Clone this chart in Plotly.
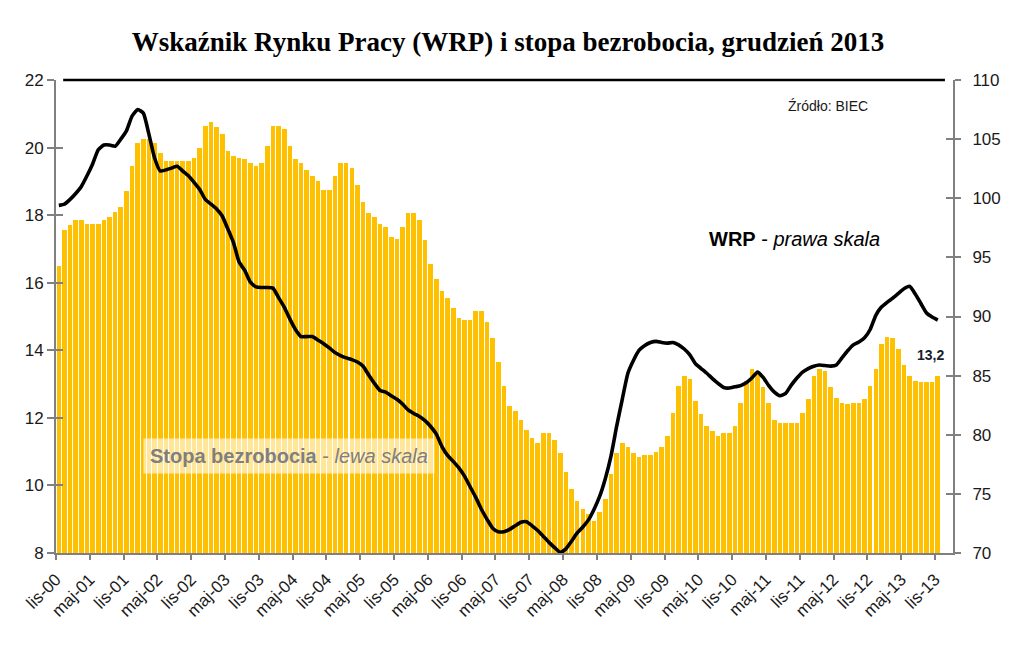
import plotly.graph_objects as go

# Stopa bezrobocia (%), monthly lis-00 .. lis-13 (left axis)
unemployment = [
    16.5, 17.55,                                                     # XI-XII 2000
    17.7, 17.85, 17.85, 17.75, 17.75, 17.75, 17.85, 17.95, 18.1, 18.25, 18.7, 19.45,   # 2001
    20.15, 20.25, 20.25, 20.15, 19.85, 19.6, 19.6, 19.6, 19.6, 19.6, 19.7, 20.0,       # 2002
    20.65, 20.75, 20.6, 20.4, 19.9, 19.75, 19.7, 19.65, 19.55, 19.45, 19.55, 20.05,    # 2003
    20.65, 20.65, 20.55, 20.05, 19.65, 19.55, 19.35, 19.15, 19.0, 18.75, 18.75, 19.15, # 2004
    19.55, 19.55, 19.4, 18.9, 18.4, 18.05, 17.95, 17.75, 17.65, 17.35, 17.3, 17.65,    # 2005
    18.05, 18.05, 17.85, 17.25, 16.55, 16.1, 15.75, 15.55, 15.25, 14.95, 14.9, 14.9,   # 2006
    15.15, 15.15, 14.85, 14.35, 13.65, 12.95, 12.35, 12.2, 11.95, 11.65, 11.4, 11.25,  # 2007
    11.55, 11.55, 11.35, 10.95, 10.4, 9.9, 9.55, 9.3, 9.15, 8.95, 9.2, 9.6,            # 2008
    10.35, 10.95, 11.25, 11.15, 10.95, 10.85, 10.9, 10.9, 11.0, 11.15, 11.45, 12.15,   # 2009
    12.95, 13.25, 13.15, 12.5, 12.1, 11.75, 11.6, 11.45, 11.55, 11.55, 11.75, 12.45,   # 2010
    13.1, 13.45, 13.35, 12.9, 12.45, 11.95, 11.85, 11.85, 11.85, 11.85, 12.15, 12.55,  # 2011
    13.25, 13.45, 13.4, 12.9, 12.6, 12.45, 12.4, 12.45, 12.45, 12.55, 12.95, 13.45,    # 2012
    14.2, 14.4, 14.35, 14.05, 13.55, 13.25, 13.1, 13.05, 13.05, 13.05, 13.25,          # 2013 (I-XI)
]

# Wskaźnik Rynku Pracy (right axis)
wrp = [
    99.4, 99.5, 99.9, 100.4, 101.0, 101.9, 102.9, 104.1, 104.5, 104.5,
    104.4, 105.0, 105.7, 106.95, 107.5, 107.2, 105.4, 103.4, 102.3, 102.4,
    102.55, 102.7, 102.3, 101.9, 101.35, 100.75, 99.9, 99.5, 99.1, 98.5,
    97.4, 96.25, 94.6, 93.9, 92.9, 92.5, 92.45, 92.45, 92.4, 91.6,
    90.8, 89.8, 88.9, 88.3, 88.3, 88.3, 88.0, 87.7, 87.35, 86.95,
    86.7, 86.5, 86.35, 86.15, 85.8, 85.05, 84.35, 83.75, 83.6, 83.3,
    83.0, 82.6, 82.1, 81.8, 81.55, 81.2, 80.7, 80.05, 79.0, 78.25,
    77.75, 77.2, 76.5, 75.6, 74.7, 73.7, 72.85, 72.1, 71.8, 71.8,
    72.0, 72.3, 72.6, 72.65, 72.3, 71.9, 71.4, 70.9, 70.45, 70.05,
    70.35, 71.0, 71.7, 72.2, 72.8, 73.7, 74.8, 76.3, 78.2, 80.7,
    83.0, 85.2, 86.3, 87.15, 87.55, 87.8, 87.9, 87.8, 87.75, 87.8,
    87.6, 87.25, 86.75, 86.0, 85.6, 85.2, 84.75, 84.35, 84.0, 83.95,
    84.05, 84.15, 84.4, 84.8, 85.3, 84.85, 84.15, 83.6, 83.3, 83.5,
    84.2, 84.8, 85.3, 85.6, 85.8, 85.9, 85.85, 85.8, 85.9, 86.5,
    87.1, 87.6, 87.85, 88.2, 88.9, 90.1, 90.8, 91.2, 91.55, 91.95,
    92.35, 92.55, 91.9, 91.1, 90.3, 89.95, 89.7,
]

tick_labels = [
    "lis-00", "maj-01", "lis-01", "maj-02", "lis-02", "maj-03", "lis-03",
    "maj-04", "lis-04", "maj-05", "lis-05", "maj-06", "lis-06", "maj-07",
    "lis-07", "maj-08", "lis-08", "maj-09", "lis-09", "maj-10", "lis-10",
    "maj-11", "lis-11", "maj-12", "lis-12", "maj-13", "lis-13",
]

months_bar = [i + 0.5 for i in range(len(unemployment))]
months_line = [i + 0.5 for i in range(len(wrp))]
tick_vals = [6 * k for k in range(len(tick_labels))]

FONT = "Liberation Sans, Arial, sans-serif"
GRAY = "#808080"

# page has an 8px body margin: the figure is sized/offset to compensate
FIG_W, FIG_H = 1012, 645

fig = go.Figure()
fig.add_trace(go.Bar(
    x=months_bar, y=unemployment, width=0.82,
    marker=dict(color="#FFC000", line=dict(width=0)),
    yaxis="y", name="Stopa bezrobocia", showlegend=False,
))
fig.add_trace(go.Scatter(
    x=months_line, y=wrp, mode="lines",
    line=dict(color="black", width=3.6, shape="spline", smoothing=0.5),
    yaxis="y2", name="WRP", showlegend=False,
))
# helper traces so the "inside" tick overlay axes are drawn
fig.add_trace(go.Scatter(x=[None], y=[None], yaxis="y3", showlegend=False, hoverinfo="skip"))
fig.add_trace(go.Scatter(x=[None], y=[None], yaxis="y4", showlegend=False, hoverinfo="skip"))

tickfont = dict(family=FONT, size=17, color="#1a1a1a")

fig.update_layout(
    width=FIG_W, height=FIG_H, autosize=False,
    margin=dict(l=48, r=67, t=72, b=100),
    paper_bgcolor="white", plot_bgcolor="white",
    showlegend=False, bargap=0,
    title=dict(
        text="<b>Wskaźnik Rynku Pracy (WRP) i stopa bezrobocia, grudzień 2013</b>",
        x=500 / FIG_W, xanchor="center", y=1 - 34 / FIG_H, yanchor="middle",
        font=dict(family="Liberation Serif, Times New Roman, serif", size=27, color="black"),
    ),
    xaxis=dict(
        range=[0, 159.2], tickmode="array", tickvals=tick_vals, ticktext=tick_labels,
        tickangle=-45, ticks="outside", ticklen=5, tickwidth=2, tickcolor=GRAY,
        showline=True, linecolor=GRAY, linewidth=2, showgrid=False, zeroline=False,
        tickfont=dict(family=FONT, size=17, color="#1a1a1a"), automargin=False,
        ticklabelstandoff=3,
    ),
    yaxis=dict(
        range=[8, 22], tick0=8, dtick=2, ticks="outside", ticklen=7, tickwidth=2,
        tickcolor=GRAY, showline=True, linecolor=GRAY, linewidth=2,
        showgrid=False, zeroline=False, tickfont=tickfont, automargin=False,
    ),
    yaxis2=dict(
        range=[70, 110], tick0=70, dtick=5, overlaying="y", side="right",
        ticks="outside", ticklen=6, tickwidth=2, tickcolor=GRAY,
        showline=True, linecolor=GRAY, linewidth=2, showgrid=False, zeroline=False,
        tickfont=tickfont, ticklabelstandoff=8, automargin=False,
    ),
    yaxis3=dict(
        range=[8, 22], tick0=8, dtick=2, overlaying="y", side="left",
        ticks="inside", ticklen=7, tickwidth=2, tickcolor=GRAY,
        showticklabels=False, showline=False, showgrid=False, zeroline=False,
        automargin=False,
    ),
    yaxis4=dict(
        range=[70, 110], tick0=70, dtick=5, overlaying="y", side="right",
        ticks="inside", ticklen=7, tickwidth=2, tickcolor=GRAY,
        showticklabels=False, showline=False, showgrid=False, zeroline=False,
        automargin=False,
    ),
    shapes=[dict(type="line", xref="paper", yref="paper", x0=0.008, x1=0.991,
                 y0=1, y1=1, line=dict(color="black", width=2.5))],
    annotations=[
        dict(text="Źródło: BIEC", xref="paper", yref="paper", x=0.8606, y=0.9447,
             xanchor="center", yanchor="middle", showarrow=False,
             font=dict(family=FONT, size=14, color="#1a1a1a")),
        dict(text="<b>WRP</b> - <i>prawa skala</i>", xref="paper", yref="paper",
             x=0.8233, y=0.664, xanchor="center", yanchor="middle", showarrow=False,
             font=dict(family=FONT, size=20, color="black")),
        dict(text="<b>Stopa bezrobocia</b> - <i>lewa skala</i>", xref="paper", yref="paper",
             x=0.2598, y=0.2045, xanchor="center", yanchor="middle", showarrow=False,
             bgcolor="rgba(255,255,255,0.6)", borderpad=6,
             font=dict(family=FONT, size=20, color="#7f7f7f")),
        dict(text="<b>13,2</b>", xref="paper", yref="paper", x=0.9744, y=0.418,
             xanchor="center", yanchor="middle", showarrow=False,
             font=dict(family=FONT, size=14, color="#17202e")),
    ],
)

fig.write_html("out.html")
